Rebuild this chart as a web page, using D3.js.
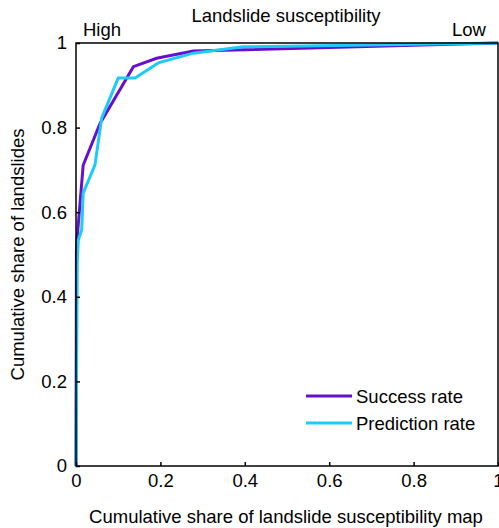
<html>
<style>
    body { margin: 0; background: #fff; }
    text { font-family: "Liberation Sans", Arial, sans-serif; fill: #000; }
</style>
<svg width="499" height="528"></svg>
<script src="https://d3js.org/d3.v7.min.js"></script>
<script>
    // data
    var successX = [0, 0.001, 0.003, 0.017, 0.057, 0.136, 0.191, 0.278, 1];
    var successY = [0, 0.51, 0.542, 0.711, 0.81, 0.944, 0.964, 0.981, 1];
    var predictionX = [0, 0.003, 0.0055, 0.0135, 0.017, 0.045, 0.061, 0.1, 0.14, 0.195, 0.278, 0.396, 1];
    var predictionY = [0, 0.48, 0.534, 0.558, 0.645, 0.712, 0.823, 0.917, 0.917, 0.953, 0.976, 0.991, 1];
    var xTicks = [0, 0.2, 0.4, 0.6, 0.8, 1];
    var yTicks = [0, 0.2, 0.4, 0.6, 0.8, 1];
    var seriesNames = ["Success rate", "Prediction rate"];
    var seriesColors = ["#6610cc", "#1ccbf7"];

    var svg = d3.select("svg");
    var fs = "18.5px";
    var mLeft = 76, mRight = 498, mTop = 43, mBottom = 466;

    var x = d3.scaleLinear().domain([0, 1]).range([mLeft, mRight]);
    var y = d3.scaleLinear().domain([0, 1]).range([mBottom, mTop]);

    var series = [
        d3.zip(successX, successY),
        d3.zip(predictionX, predictionY)
    ];

    var line = d3.line().x(d => x(d[0])).y(d => y(d[1]));

    // curves
    svg.selectAll("path.curve")
        .data(series)
        .enter()
        .append("path")
        .attr("class", "curve")
        .attr("d", line)
        .attr("fill", "none")
        .attr("stroke", (d, i) => seriesColors[i])
        .attr("stroke-width", 3)
        .attr("stroke-linejoin", "miter");

    // frame
    svg.append("rect")
        .attr("x", mLeft).attr("y", mTop)
        .attr("width", mRight - mLeft).attr("height", mBottom - mTop)
        .attr("fill", "none").attr("stroke", "#000").attr("stroke-width", 1.5);

    // x axis (inward ticks)
    var xAxis = svg.append("g")
        .attr("transform", "translate(0," + mBottom + ")")
        .call(d3.axisBottom(x).tickValues(xTicks).tickFormat(d3.format("")).tickSizeInner(-4).tickSizeOuter(0).tickPadding(8));
    xAxis.select(".domain").remove();
    xAxis.selectAll("line").attr("stroke", "#000").attr("stroke-width", 1.5);
    xAxis.selectAll("text").style("font-size", fs).attr("font-family", null);

    // y axis
    var yAxis = svg.append("g")
        .attr("transform", "translate(" + mLeft + ",0)")
        .call(d3.axisLeft(y).tickValues(yTicks).tickFormat(d3.format("")).tickSizeInner(-4).tickSizeOuter(0).tickPadding(9));
    yAxis.select(".domain").remove();
    yAxis.selectAll("line").attr("stroke", "#000").attr("stroke-width", 1.5);
    yAxis.selectAll("text").style("font-size", fs).attr("font-family", null);

    // titles
    svg.append("text")
        .attr("x", (mLeft + mRight) / 2 - 1).attr("y", 523)
        .attr("text-anchor", "middle").style("font-size", fs)
        .text("Cumulative share of landslide susceptibility map");

    svg.append("text")
        .attr("transform", "translate(24," + ((mTop + mBottom) / 2) + ") rotate(-90)")
        .attr("text-anchor", "middle").style("font-size", fs)
        .text("Cumulative share of landslides");

    svg.append("text")
        .attr("x", 286).attr("y", 22)
        .attr("text-anchor", "middle").style("font-size", fs)
        .text("Landslide susceptibility");

    svg.append("text")
        .attr("x", 83).attr("y", 36)
        .style("font-size", fs)
        .text("High");

    svg.append("text")
        .attr("x", 486).attr("y", 36)
        .attr("text-anchor", "end").style("font-size", fs)
        .text("Low");

    // legend
    var legend = svg.selectAll("g.legend")
        .data(seriesNames)
        .enter()
        .append("g")
        .attr("class", "legend")
        .attr("transform", (d, i) => "translate(306," + (396 + i * 27) + ")");

    legend.append("line")
        .attr("x1", 0).attr("x2", 46)
        .attr("stroke", (d, i) => seriesColors[i])
        .attr("stroke-width", 3);

    legend.append("text")
        .attr("x", 50).attr("y", 7)
        .style("font-size", fs)
        .text(d => d);
</script>
</html>
